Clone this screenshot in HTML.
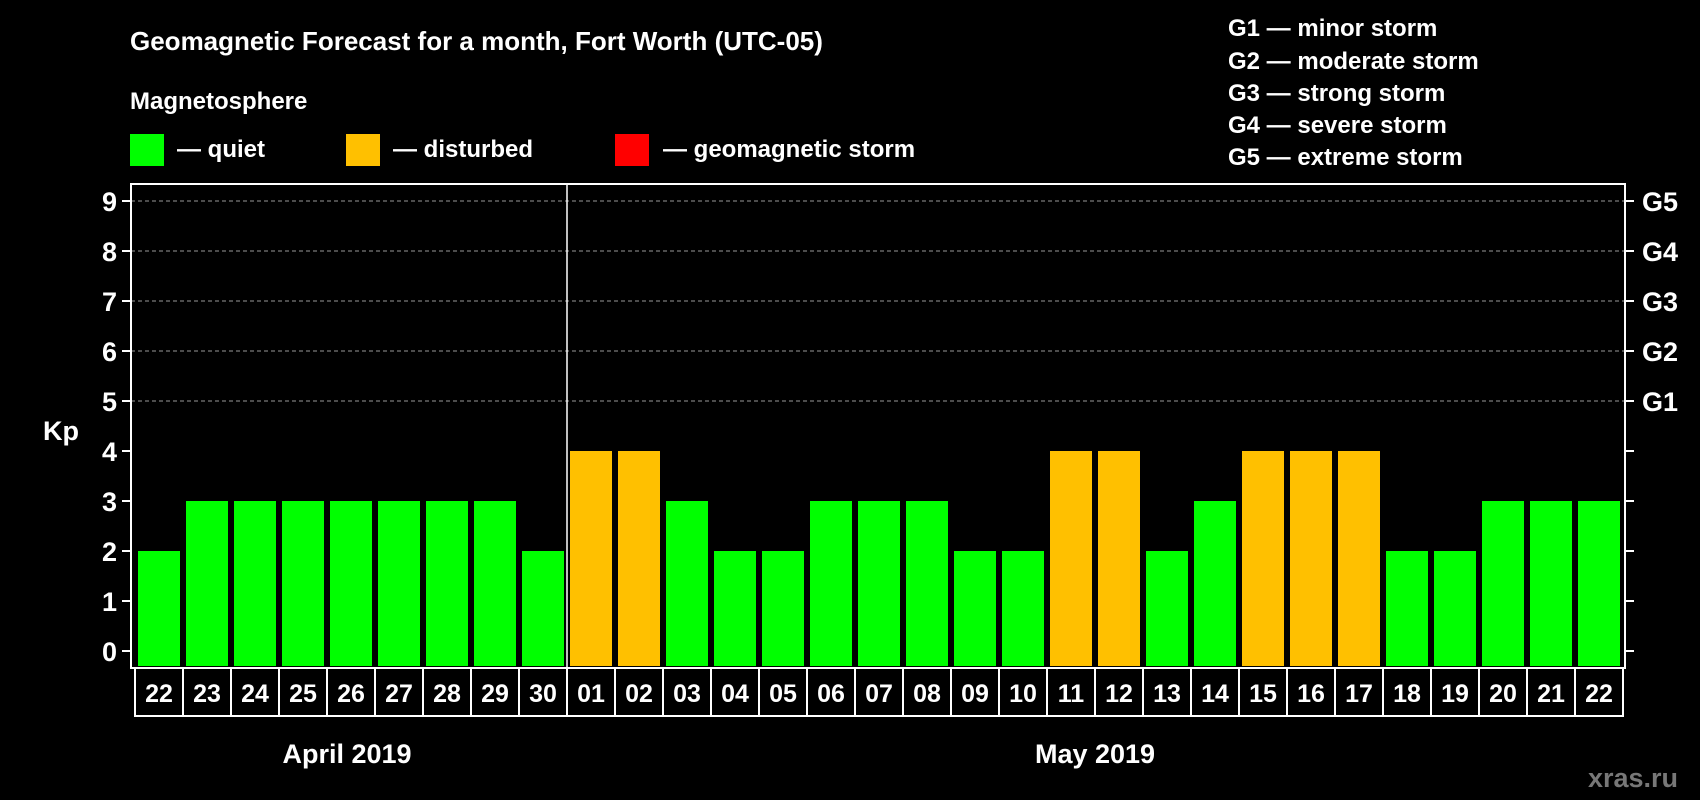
<!DOCTYPE html>
<html><head><meta charset="utf-8"><style>
html,body{margin:0;padding:0;background:#000;}
svg{display:block;font-family:"Liberation Sans",Arial,sans-serif;font-weight:bold;}
</style></head><body>
<svg id="c" width="1700" height="800" viewBox="0 0 1700 800">
<text x="130" y="50" fill="#fff" font-size="26">Geomagnetic Forecast for a month, Fort Worth (UTC-05)</text>
<text x="130" y="109" fill="#fff" font-size="24">Magnetosphere</text>
<rect x="130" y="134" width="34" height="32" fill="#00ff00"/>
<text x="177" y="157" fill="#fff" font-size="24">— quiet</text>
<rect x="346" y="134" width="34" height="32" fill="#ffc000"/>
<text x="393" y="157" fill="#fff" font-size="24">— disturbed</text>
<rect x="615" y="134" width="34" height="32" fill="#ff0000"/>
<text x="663" y="157" fill="#fff" font-size="24">— geomagnetic storm</text>
<g font-size="24" fill="#fff">
<text x="1228" y="36">G1 — minor storm</text>
<text x="1228" y="69">G2 — moderate storm</text>
<text x="1228" y="101">G3 — strong storm</text>
<text x="1228" y="133">G4 — severe storm</text>
<text x="1228" y="165">G5 — extreme storm</text>
</g>
<text x="43" y="440" fill="#fff" font-size="27">Kp</text>
<g id="grid"></g><g id="bars"></g><g id="axes"></g>
<text x="347" y="763" fill="#fff" font-size="27" text-anchor="middle">April 2019</text>
<text x="1095" y="763" fill="#fff" font-size="27" text-anchor="middle">May 2019</text>
<text x="1678" y="787" fill="#777" font-size="27" text-anchor="end">xras.ru</text>
</svg>
<script>
const days=["22","23","24","25","26","27","28","29","30","01","02","03","04","05","06","07","08","09","10","11","12","13","14","15","16","17","18","19","20","21","22"];
const kp=[2,3,3,3,3,3,3,3,2,4,4,3,2,2,3,3,3,2,2,4,4,2,3,4,4,4,2,2,3,3,3];
const yTicks=[0,1,2,3,4,5,6,7,8,9];
const gLabels=["G1","G2","G3","G4","G5"];
const NS="http://www.w3.org/2000/svg";
const L=131,R=1625,T=184,B=668,Y0=651,Y9=201;
const y=v=>Y0-(v/9)*(Y0-Y9);
const pitch=48,x0=135;
const xc=i=>x0+i*pitch;
function mk(t,a,p){const e=document.createElementNS(NS,t);for(const k in a)e.setAttribute(k,a[k]);p.appendChild(e);return e;}
const grid=document.getElementById('grid'),bars=document.getElementById('bars'),axes=document.getElementById('axes');
yTicks.forEach(v=>{
 if(v>=5){const g=mk('line',{x1:L,x2:R,y1:y(v),y2:y(v),stroke:'#999','stroke-dasharray':'4,3','stroke-width':1},grid);
 
 }
 mk('line',{x1:L-9,x2:L,y1:y(v),y2:y(v),stroke:'#fff','stroke-width':2},axes);
 mk('line',{x1:R,x2:R+9,y1:y(v),y2:y(v),stroke:'#fff','stroke-width':2},axes);
 const t=mk('text',{x:L-14,y:y(v)+10,fill:'#fff','font-size':27,'text-anchor':'end'},axes);t.textContent=v;
 
 
});
gLabels.forEach((g,i)=>{const t=mk('text',{x:R+17,y:y(5+i)+10,fill:'#fff','font-size':27},axes);t.textContent=g;
 
 });
kp.forEach((v,i)=>{
 const r=mk('rect',{x:xc(i)+3,y:y(v),width:42,height:Y0-y(v)+15,fill:v>=5?'#ff0000':(v>=4?'#ffc000':'#00ff00')},bars);
 
 
 mk('rect',{x:xc(i),y:B,width:pitch,height:48,fill:'none',stroke:'#fff','stroke-width':2},axes);
 const t=mk('text',{x:xc(i)+pitch/2,y:B+34,fill:'#fff','font-size':25,'text-anchor':'middle'},axes);t.textContent=days[i];
 
 
});
mk('rect',{x:L,y:T,width:R-L,height:B-T,fill:'none',stroke:'#fff','stroke-width':2},axes);
mk('line',{x1:567,x2:567,y1:T,y2:B,stroke:'#fff','stroke-width':1.5},axes);
</script>
</body></html>
